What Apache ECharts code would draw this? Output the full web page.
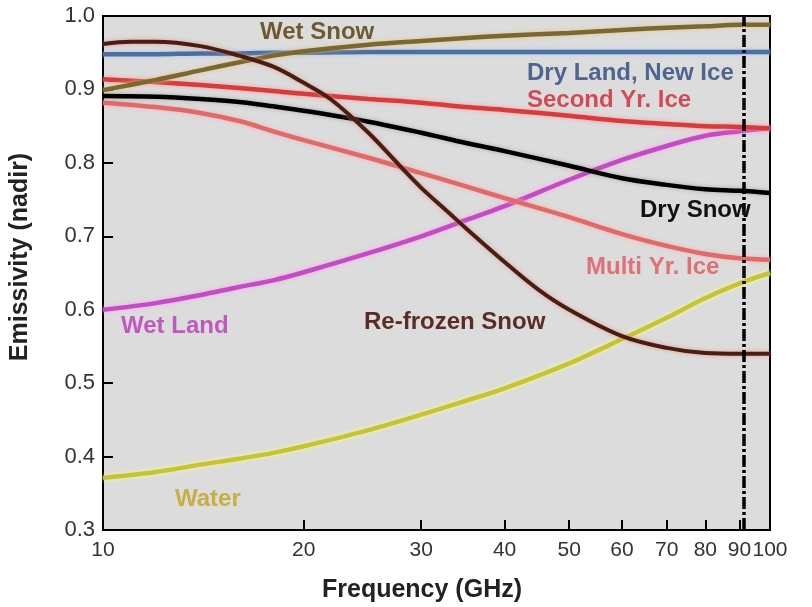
<!DOCTYPE html>
<html>
<head>
<meta charset="utf-8">
<script src="https://cdn.jsdelivr.net/npm/echarts@6.0.0/dist/echarts.min.js"></script>
<style>
html,body{margin:0;padding:0;background:#fff;}
#chart{width:812px;height:607px;}
</style>
</head>
<body>
<div id="chart"></div>
<script>
// ---- data (frequency in GHz, emissivity at nadir) ----
var freq = [10, 12, 14, 16, 18, 20, 25, 30, 35, 40, 50, 60, 70, 80, 90, 100];
var wetSnow     = [0.899, 0.913, 0.926, 0.937, 0.946, 0.952, 0.961, 0.966, 0.970, 0.973, 0.977, 0.981, 0.984, 0.986, 0.988, 0.988];
var dryLandIce  = [0.948, 0.948, 0.949, 0.949, 0.950, 0.950, 0.951, 0.951, 0.951, 0.951, 0.951, 0.951, 0.951, 0.951, 0.951, 0.951];
var secondYrIce = [0.914, 0.910, 0.906, 0.902, 0.898, 0.894, 0.887, 0.882, 0.876, 0.872, 0.864, 0.857, 0.853, 0.850, 0.849, 0.847];
var drySnow     = [0.891, 0.890, 0.887, 0.883, 0.877, 0.871, 0.856, 0.841, 0.827, 0.816, 0.796, 0.779, 0.770, 0.764, 0.762, 0.759];
var multiYrIce  = [0.882, 0.876, 0.868, 0.857, 0.843, 0.831, 0.807, 0.786, 0.768, 0.752, 0.726, 0.703, 0.687, 0.676, 0.670, 0.668];
var wetLand     = [0.600, 0.609, 0.620, 0.631, 0.640, 0.651, 0.677, 0.700, 0.722, 0.741, 0.777, 0.804, 0.823, 0.837, 0.843, 0.847];
var water       = [0.371, 0.379, 0.389, 0.397, 0.405, 0.414, 0.436, 0.457, 0.476, 0.493, 0.527, 0.560, 0.589, 0.616, 0.636, 0.650];
var refrozenFreq = [10, 11, 12, 14, 16, 18, 20, 22, 25, 28, 30, 33, 35, 40, 45, 50, 60, 70, 80, 90, 100];
var refrozenSnow = [0.962, 0.965, 0.965, 0.959, 0.946, 0.931, 0.909, 0.886, 0.841, 0.794, 0.766, 0.732, 0.711, 0.665, 0.627, 0.600, 0.564, 0.548, 0.541, 0.540, 0.540];
var xTickValues = [10, 20, 30, 40, 50, 60, 70, 80, 90, 100];
var yMin = 0.3, yMax = 1.0, yStep = 0.1;
var channelFreq = 91;

function pairs(fs, vs) {
  return fs.map(function (f, i) { return [Math.log10(f), vs[i]]; });
}

var chart = echarts.init(document.getElementById('chart'), null, {renderer: 'canvas'});
var FONT = '"Liberation Sans", Arial, sans-serif';

function lineSeries(name, fs, vs, color, glow, width) {
  return {
    name: name, type: 'line', data: pairs(fs, vs),
    smooth: 0.35, symbol: 'none',
    lineStyle: {color: color, width: width || 4.5, shadowColor: glow, shadowBlur: 4},
    z: 3
  };
}

var series = [
  lineSeries('Water', freq, water, '#c4c435', 'rgba(255,255,140,0.9)'),
  lineSeries('Wet Land', freq, wetLand, '#c24cc2', 'rgba(255,160,240,0.9)'),
  lineSeries('Multi Yr. Ice', freq, multiYrIce, '#df6a6a', 'rgba(255,170,170,0.9)'),
  lineSeries('Second Yr. Ice', freq, secondYrIce, '#d63c3c', 'rgba(255,150,150,0.9)'),
  lineSeries('Dry Land, New Ice', freq, dryLandIce, '#4d6d9e', 'rgba(170,200,240,0.9)'),
  lineSeries('Wet Snow', freq, wetSnow, '#7a6830', 'rgba(230,200,130,0.9)'),
  lineSeries('Dry Snow', freq, drySnow, '#000000', 'rgba(120,120,120,0.5)'),
  lineSeries('Re-frozen Snow', refrozenFreq, refrozenSnow, '#4a1c12', 'rgba(220,150,130,0.8)', 4)
];
series.push({
  type: 'line', data: [], silent: true,
  markLine: {
    silent: true, symbol: 'none', label: {show: false},
    lineStyle: {color: '#000', width: 3.5, type: [12, 3, 3, 3]},
    data: [{xAxis: Math.log10(channelFreq)}]
  },
  z: 5
});

function txt(text, x, y, color, size) {
  return {
    type: 'text', left: x, top: y - (size || 24) / 2 - 1, z: 20,
    style: {text: text, fill: color, font: 'bold ' + (size || 24) + 'px ' + FONT}
  };
}

var option = {
  backgroundColor: '#ffffff',
  animation: false,
  grid: {left: 103, right: 42, top: 16, bottom: 77, show: true,
         backgroundColor: '#dcdcdc', borderColor: '#000', borderWidth: 2},
  xAxis: {
    type: 'value', min: 1, max: 2,
    axisLine: {show: true, lineStyle: {color: '#000', width: 2}},
    axisTick: {show: true, inside: true, length: 10, lineStyle: {color: '#000', width: 2},
               customValues: xTickValues.map(function (v) { return Math.log10(v); })},
    axisLabel: {show: true, margin: 10, color: '#333', fontSize: 21, fontFamily: FONT,
                showMinLabel: true, showMaxLabel: true,
                customValues: xTickValues.map(function (v) { return Math.log10(v); }),
                formatter: function (v) { return String(Math.round(Math.pow(10, v))); }},
    splitLine: {show: false}
  },
  yAxis: {
    type: 'value', min: yMin, max: yMax, interval: yStep,
    axisLine: {show: true, lineStyle: {color: '#000', width: 2}},
    axisTick: {show: true, inside: true, length: 10, lineStyle: {color: '#000', width: 2}},
    axisLabel: {margin: 8, color: '#333', fontSize: 22, fontFamily: FONT,
                formatter: function (v) { return v.toFixed(1); }},
    splitLine: {show: false}
  },
  graphic: [
    txt('Wet Snow', 260, 33, '#6e5a30'),
    txt('Dry Land, New Ice', 527, 74, '#4e6592'),
    txt('Second Yr. Ice', 527, 101, '#d24a55'),
    txt('Dry Snow', 640, 211, '#111111'),
    txt('Multi Yr. Ice', 586, 268, '#e07078'),
    txt('Wet Land', 121, 327, '#c058c0'),
    txt('Re-frozen Snow', 364, 323, '#5a2c24'),
    txt('Water', 175, 500, '#c8b040'),
    {type: 'text', left: 322, top: 578, z: 20,
     style: {text: 'Frequency (GHz)', fill: '#222', font: 'bold 25px ' + FONT}},
    {type: 'text', x: 20, y: 257, rotation: Math.PI / 2, z: 20,
     style: {text: 'Emissivity (nadir)', fill: '#222', font: 'bold 25px ' + FONT,
             textAlign: 'center', textVerticalAlign: 'middle'}}
  ],
  series: series
};
chart.setOption(option);
</script>
</body>
</html>
